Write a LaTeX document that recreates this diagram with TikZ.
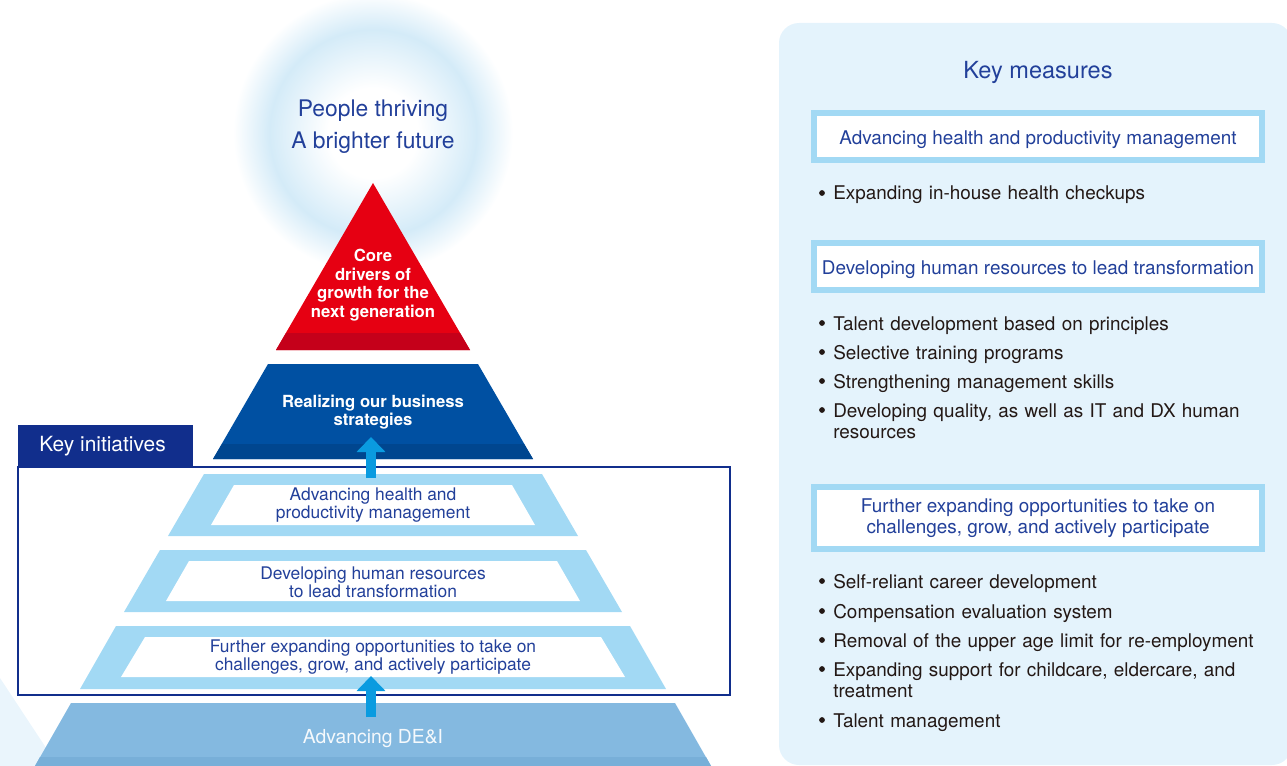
\documentclass[tikz,border=0pt]{standalone}
\usepackage{fontspec}
\setmainfont{TeX Gyre Heros}
\usetikzlibrary{arrows.meta, calc}
\definecolor{corered}{HTML}{E60012}
\definecolor{coreband}{HTML}{C5001A}
\definecolor{stratblue}{HTML}{0050A2}
\definecolor{stratband}{HTML}{00468F}
\definecolor{tierblue}{HTML}{A2D9F4}
\definecolor{deiblue}{HTML}{84B9E0}
\definecolor{deiband}{HTML}{78AFD8}
\definecolor{arrowblue}{HTML}{0A9BE0}
\definecolor{navy}{HTML}{112E8C}
\definecolor{txtblue}{HTML}{22409A}
\definecolor{panelbg}{HTML}{E4F3FC}
\definecolor{txtdark}{HTML}{231815}
\definecolor{glowblue}{HTML}{D4EBF8}
\definecolor{faint}{HTML}{EAF5FC}
\pgfdeclareradialshading{glowring}{\pgfpoint{0bp}{0bp}}{color(0bp)=(white); color(8bp)=(white); color(18.5bp)=(glowblue); color(25bp)=(white); color(50bp)=(white)}

\begin{document}
\begin{tikzpicture}[x=0.2mm, y=-0.2mm,
        pyrtxt/.style={align=center, text=txtblue, font=\fontsize{9.9}{10.3}\selectfont},
        pyrbold/.style={align=center, text=white, font=\bfseries\fontsize{9.5}{10.6}\selectfont},
        mbox/.style={draw=tierblue, line width=1.2mm, fill=white, minimum width=89.6mm, align=center, text=txtblue, font=\fontsize{10.75}{12}\selectfont},
        item/.style={anchor=base west, inner sep=0pt, text width=90mm, align=left, text=txtdark, font=\fontsize{10.75}{12.5}\selectfont},
        dot/.style={circle, fill=txtdark, inner sep=0pt, minimum size=1.15mm},
        uparrow/.style={draw=arrowblue, line width=2mm, -{Triangle[width=5.6mm, length=3mm]}}]
        \useasboundingbox (0,0) rectangle (1287,766);
        %alone luminoso e sfondo
        \shade[shading=glowring] (373,133) circle [radius=28mm];
        \fill[faint] (0,678) -- (58,766) -- (0,766) -- cycle;
        \node[align=center, text=txtblue, font=\fontsize{13}{18.2}\selectfont] (future) at (373,127) {People thriving\\A brighter future};
        %vertice rosso
        \fill[corered] (373,183) -- (470,350) -- (276,350) -- cycle;
        \fill[coreband] (286,333) -- (460,333) -- (470,350) -- (276,350) -- cycle;
        \node[pyrbold] (core) at (373,285) {Core\\drivers of\\growth for the\\next generation};
        %strategie
        \fill[stratblue] (268,364) -- (478,364) -- (533,459) -- (213,459) -- cycle;
        \fill[stratband] (222,444) -- (524,444) -- (533,459) -- (213,459) -- cycle;
        \node[pyrbold] (strat) at (373,412) {Realizing our business\\strategies};
        %livelli delle iniziative
        \fill[tierblue] (204,474) -- (542,474) -- (578,536) -- (168,536) -- cycle;
        \fill[white] (234,485) -- (512,485) -- (535,525) -- (211,525) -- cycle;
        \fill[tierblue] (160,550) -- (586,550) -- (622,612) -- (124,612) -- cycle;
        \fill[white] (189,561) -- (557,561) -- (580,601) -- (166,601) -- cycle;
        \fill[tierblue] (116,626) -- (630,626) -- (666,689) -- (80,689) -- cycle;
        \fill[white] (145,637) -- (601,637) -- (625,677) -- (121,677) -- cycle;
        \node[pyrtxt] (tierA) at (373,505) {Advancing health and\\productivity management};
        \node[pyrtxt] (tierB) at (373,582) {Developing human resources\\to lead transformation};
        \node[pyrtxt] (tierC) at (373,657) {Further expanding opportunities to take on\\challenges, grow, and actively participate};
        %base
        \fill[deiblue] (71,703) -- (675,703) -- (711,766) -- (35,766) -- cycle;
        \fill[deiband] (40,757) -- (706,757) -- (711,766) -- (35,766) -- cycle;
        \node[text=white!92!deiblue, font=\fontsize{11}{13}\selectfont] (dei) at (373,739) {Advancing DE\&I};
        %riquadro iniziative
        \draw[navy, line width=0.3mm] (18,467) rectangle (730,695);
        \node[fill=navy, text=white, font=\fontsize{11.9}{13}\selectfont, minimum width=35mm, minimum height=8.4mm, inner sep=0pt] (keyinit) at (105.5,446) {\hspace*{-1.2mm}Key initiatives};
        %frecce
        \coordinate (upA0) at (371,478);
        \coordinate (upA1) at (371,437);
        \coordinate (upB0) at (371,717);
        \coordinate (upB1) at (371,676);
        \draw[uparrow] (upA0) -- (upA1);
        \draw[uparrow] (upB0) -- (upB1);
        %pannello misure
        \fill[panelbg, rounded corners=4mm] (779,23) rectangle (1292,765);
        \node[text=txtblue, font=\fontsize{13.4}{15}\selectfont] (measures) at (1038,72.5) {Key measures};
        \node[mbox, minimum height=9.4mm, text height=1.15em, text depth=0.2em] (hboxA) at (1038,136.5) {Advancing health and productivity management};
        \node[mbox, minimum height=9.4mm, text height=1.15em, text depth=0.2em] (hboxB) at (1038,266.5) {Developing human resources to lead transformation};
        \node[mbox, minimum height=12.4mm] (hboxC) at (1038,518) {Further expanding opportunities to take on\\challenges, grow, and actively participate};
        \foreach \yb/\txt [count=\i] in {200/{Expanding in-house health checkups},
                330/{Talent development based on principles},
                359/{Selective training programs},
                388/{Strengthening management skills},
                417/{Developing quality, as well as IT and DX human\\resources},
                588/{Self-reliant career development},
                618/{Compensation evaluation system},
                647/{Removal of the upper age limit for re-employment},
                676/{Expanding support for childcare, eldercare, and\\treatment},
                727/{Talent management}}{
            \node[dot] (dot\i) at (822,\yb-7) {};
            \node[item] (item\i) at (833,\yb) {\txt};
        }
\end{tikzpicture}
\end{document}
